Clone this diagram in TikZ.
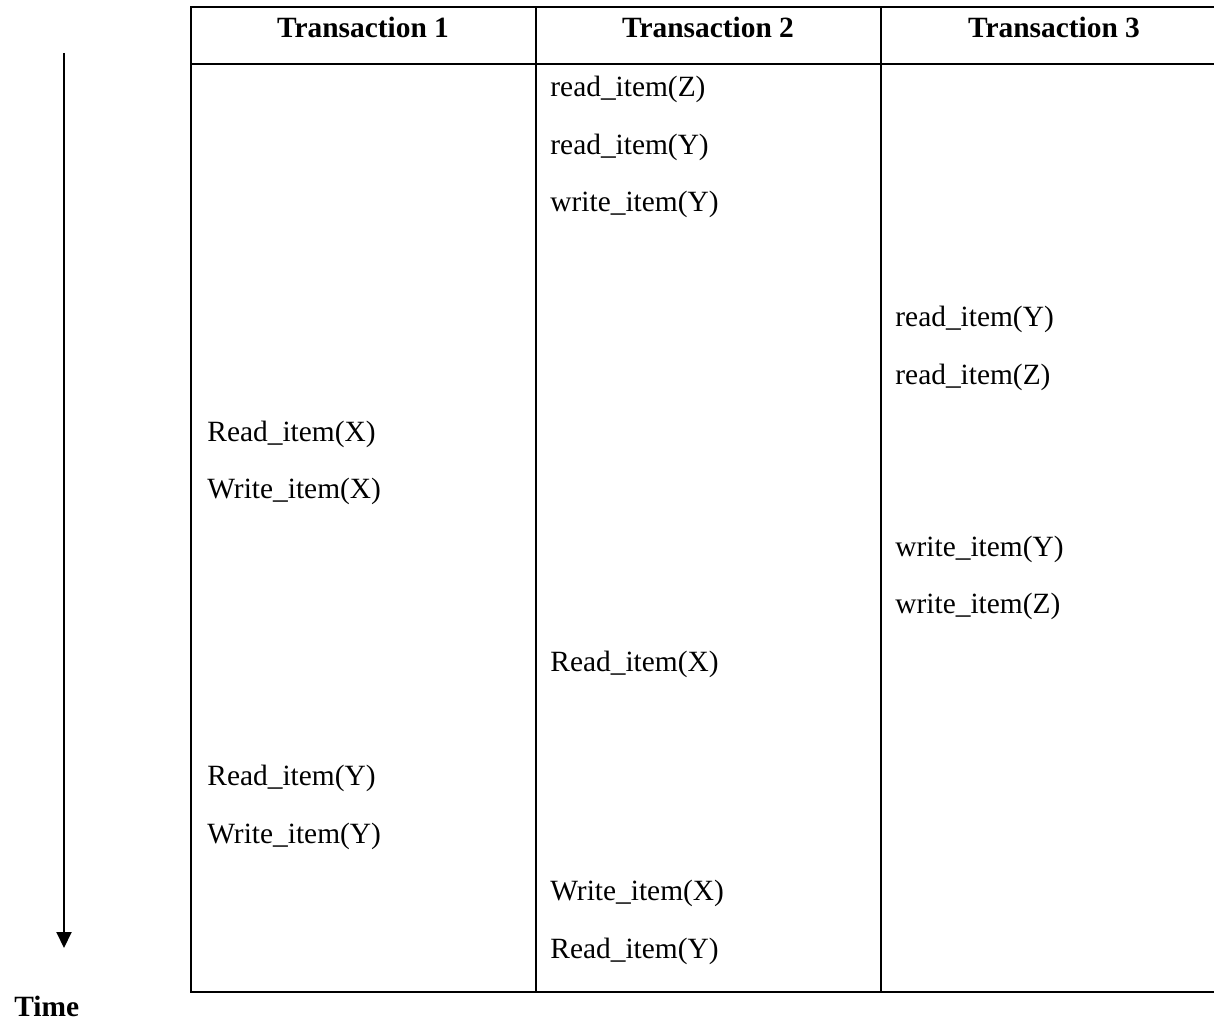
\documentclass[tikz,border=0pt]{standalone}
\usepackage{fontspec}
\setmainfont{Liberation Serif}
\usetikzlibrary{arrows.meta,positioning}
\tikzset{
	op/.style={inner sep=0pt, anchor=base west, font=\fontsize{14.7}{17}\selectfont},
	head/.style={inner sep=0pt, anchor=base, font=\fontsize{14.7}{17}\selectfont\bfseries},
	rule/.style={line width=1pt}
}
\begin{document}
\begin{tikzpicture}[x=0.5pt,y=-0.5pt]
	\useasboundingbox (0,0) rectangle (1214,1021);
	% table lines
	\draw[rule] (1232,7) -- (191,7) -- (191,992) -- (1232,992);
	\draw[rule] (191,64) -- (1232,64);
	\draw[rule] (536,7) -- (536,992);
	\draw[rule] (881,7) -- (881,992);
	% column heads
	\node[head] (head1) at (363,38) {Transaction 1};
	\node[head] (head2) at (708,38) {Transaction 2};
	\node[head] (head3) at (1054,38) {Transaction 3};
	% transaction 1
	\node[op] (t1op1) at (207,441.4) {Read\_item(X)};
	\node[op] (t1op2) at (207,498.8) {Write\_item(X)};
	\node[op] (t1op3) at (207,785.8) {Read\_item(Y)};
	\node[op] (t1op4) at (207,843.2) {Write\_item(Y)};
	% transaction 2
	\node[op] (t2op1) at (550,97) {read\_item(Z)};
	\node[op] (t2op2) at (550,154.4) {read\_item(Y)};
	\node[op] (t2op3) at (550,211.8) {write\_item(Y)};
	\node[op] (t2op4) at (550,671) {Read\_item(X)};
	\node[op] (t2op5) at (550,900.6) {Write\_item(X)};
	\node[op] (t2op6) at (550,958) {Read\_item(Y)};
	% transaction 3
	\node[op] (t3op1) at (895,326.6) {read\_item(Y)};
	\node[op] (t3op2) at (895,384) {read\_item(Z)};
	\node[op] (t3op3) at (895,556.2) {write\_item(Y)};
	\node[op] (t3op4) at (895,613.6) {write\_item(Z)};
	% time axis
	\coordinate (tstart) at (64,53);
	\coordinate (tend) at (64,948);
	\draw[rule,-{Triangle[width=7.5pt,length=8pt]}] (tstart) -- (tend);
	\node[op,font=\fontsize{14.7}{17}\selectfont\bfseries] (time) at (14,1016) {Time};
\end{tikzpicture}
\end{document}
